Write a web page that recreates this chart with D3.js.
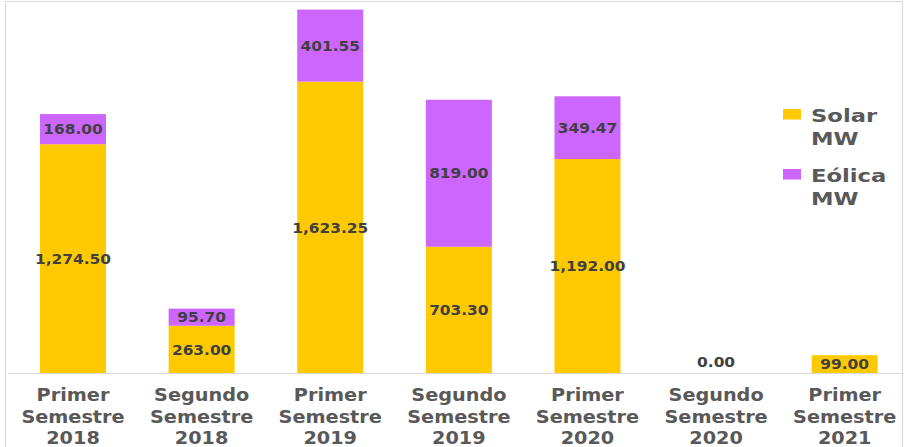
<!DOCTYPE html>
<html>
<head>
<meta charset="utf-8">
<script src="https://cdn.jsdelivr.net/npm/d3@7"></script>
<style>
  html, body { margin: 0; padding: 0; background: #fff; }
  svg { display: block; }
</style>
</head>
<body>
<svg id="chart" width="912" height="447"></svg>
<script>
// Semester categories (three-line labels)
const categories = [
  ["Primer", "Semestre", "2018"],
  ["Segundo", "Semestre", "2018"],
  ["Primer", "Semestre", "2019"],
  ["Segundo", "Semestre", "2019"],
  ["Primer", "Semestre", "2020"],
  ["Segundo", "Semestre", "2020"],
  ["Primer", "Semestre", "2021"]
];
// Installed capacity in MW per semester
const solarMW  = [1274.50, 263.00, 1623.25, 703.30, 1192.00, 0.00, 99.00];
const eolicaMW = [168.00, 95.70, 401.55, 819.00, 349.47, null, null];
const seriesNames = [["Solar", "MW"], ["Eólica", "MW"]];

const colors = ["#FFC900", "#CC66FF"];
const W = 912, H = 447;
const baseY = 373;

const svg = d3.select("#chart");

// outer frame
svg.append("path")
  .attr("d", `M5.5,${H} V1.5 H902.5 V${H}`)
  .attr("fill", "none").attr("stroke", "#d9d9d9").attr("stroke-width", 1.2);

const x = d3.scaleBand()
  .domain(d3.range(categories.length))
  .range([8.7, 909])
  .paddingInner(0.487)
  .paddingOuter(0.2435);

const y = d3.scaleLinear().domain([0, 2078]).range([baseY, 0]);

const rows = categories.map((c, i) => ({ i, solar: solarMW[i], eolica: eolicaMW[i] }));
const stack = d3.stack().keys(["solar", "eolica"]).value((d, k) => d[k] || 0);
const layers = stack(rows);

const g = svg.append("g");
layers.forEach((layer, li) => {
  g.selectAll(null).data(layer).enter().append("rect")
    .attr("x", d => x(d.data.i))
    .attr("width", x.bandwidth())
    .attr("y", d => y(d[1]))
    .attr("height", d => y(d[0]) - y(d[1]))
    .attr("fill", colors[li]);
});

// baseline
svg.append("line")
  .attr("x1", 8).attr("x2", 902).attr("y1", baseY + 0.5).attr("y2", baseY + 0.5)
  .attr("stroke", "#d9d9d9").attr("stroke-width", 1.2);

// value labels
const fmt = d3.format(",.2f");
layers.forEach((layer, li) => {
  layer.forEach(d => {
    const key = li === 0 ? "solar" : "eolica";
    const v = d.data[key];
    if (v === null || v === undefined) return;
    const cx = x(d.data.i) + x.bandwidth() / 2;
    const cy = v === 0 ? y(0) - 11 : (y(d[0]) + y(d[1])) / 2;
    svg.append("text")
      .attr("transform", `translate(${cx},${cy}) scale(1.1,1)`)
      .attr("text-anchor", "middle")
      .attr("dominant-baseline", "central")
      .attr("font-family", "DejaVu Sans, Verdana, sans-serif")
      .attr("font-weight", "bold")
      .attr("font-size", 14)
      .attr("fill", "#404040")
      .text(fmt(v));
  });
});

// category axis labels
categories.forEach((lines, i) => {
  const cx = x(i) + x.bandwidth() / 2;
  lines.forEach((t, j) => {
    svg.append("text")
      .attr("transform", `translate(${cx},${401 + j * 21.5}) scale(1.07,1)`)
      .attr("text-anchor", "middle")
      .attr("font-family", "DejaVu Sans, Verdana, sans-serif")
      .attr("font-weight", "bold")
      .attr("font-size", 18)
      .attr("fill", "#595959")
      .text(t);
  });
});

// legend
const legendTop = [109, 169];
seriesNames.forEach((names, k) => {
  svg.append("rect")
    .attr("x", 783).attr("y", legendTop[k])
    .attr("width", 18).attr("height", 10.5)
    .attr("fill", colors[k]);
  names.forEach((t, j) => {
    svg.append("text")
      .attr("transform", `translate(811,${legendTop[k] + 13 + j * 23}) scale(1.26,1)`)
      .attr("font-family", "DejaVu Sans, Verdana, sans-serif")
      .attr("font-weight", "bold")
      .attr("font-size", 18)
      .attr("fill", "#595959")
      .text(t);
  });
});
</script>
</body>
</html>
